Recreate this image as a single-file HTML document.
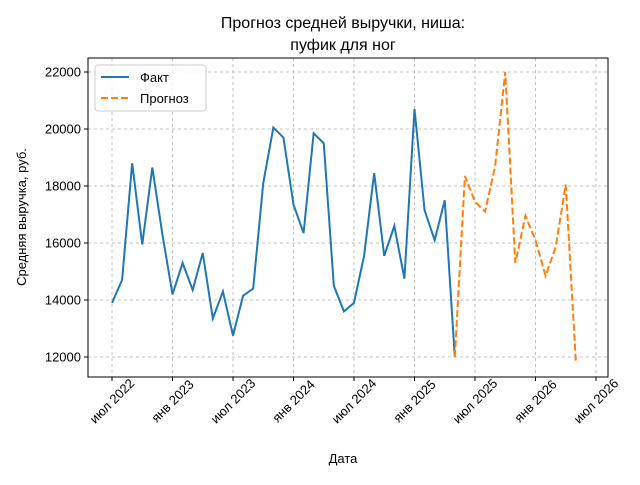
<!DOCTYPE html>
<html><head><meta charset="utf-8"><style>
body{margin:0;background:#fff}
svg text{font-family:"Liberation Sans","DejaVu Sans",sans-serif;fill:#000}
</style></head><body>
<svg id="c" width="640" height="480" xmlns="http://www.w3.org/2000/svg">
<rect width="640" height="480" fill="#fff"/>
<text x="343" y="28" font-size="16" text-anchor="middle">Прогноз средней выручки, ниша:</text>
<text x="343" y="50" font-size="16" text-anchor="middle">пуфик для ног</text>
<text transform="translate(26,217) rotate(-90)" font-size="13" text-anchor="middle">Средняя выручка, руб.</text>
<text x="343" y="463" font-size="13" text-anchor="middle">Дата</text>
<g id="grid"></g><g id="marks"></g><g id="axes"></g>
</svg>
<script>
const factValues=[13900,14700,18800,15950,18650,16300,14200,15300,14350,15650,13350,14300,12750,14150,14400,18100,20050,19700,17350,16350,19850,19500,14500,13600,13900,15550,18450,15550,16600,14750,20700,17150,16100,17500,12000];
const forecastValues=[12000,18350,17450,17100,18700,22000,15300,16950,16100,14850,15850,18050,11850];
const forecastStart=34;
const yTicks=[12000,14000,16000,18000,20000,22000];
const xTickMonths=[0,6,12,18,24,30,36,42,48];
const xTickLabels=["июл 2022","янв 2023","июл 2023","янв 2024","июл 2024","янв 2025","июл 2025","янв 2026","июл 2026"];
const L=88,R=608,T=58,B=377;
const xs=m=>112+m*10.083;
const ys=v=>357-(v-12000)*0.0285;
const NS="http://www.w3.org/2000/svg";
function mk(t,a,p){const e=document.createElementNS(NS,t);for(const k in a)e.setAttribute(k,a[k]);p.appendChild(e);return e;}
const grid=document.getElementById('grid'),marks=document.getElementById('marks'),axes=document.getElementById('axes');
yTicks.forEach(v=>{const y=ys(v);
const g=mk('line',{x1:L,x2:R,y1:y,y2:y,stroke:'#b0b0b0','stroke-width':0.8,'stroke-dasharray':'3,3'},grid);

mk('line',{x1:L-4,x2:L,y1:y,y2:y,stroke:'#000'},axes);
const t=mk('text',{x:L-7,y:y+4.5,'font-size':13,'text-anchor':'end'},axes);t.textContent=v;
});
xTickMonths.forEach((m,i)=>{const x=xs(m);
const g=mk('line',{x1:x,x2:x,y1:T,y2:B,stroke:'#b0b0b0','stroke-width':0.8,'stroke-dasharray':'3,3'},grid);

mk('line',{x1:x,x2:x,y1:B,y2:B+4,stroke:'#000'},axes);
const t=mk('text',{transform:`translate(${x},${B+24}) rotate(-45)`,y:4.5,'font-size':13,'text-anchor':'middle'},axes);t.textContent=xTickLabels[i];
});
const fp=mk('polyline',{points:factValues.map((v,i)=>xs(i)+','+ys(v)).join(' '),fill:'none',stroke:'#1f77b4','stroke-width':2},marks);

const pp=mk('polyline',{points:forecastValues.map((v,i)=>xs(i+forecastStart)+','+ys(v)).join(' '),fill:'none',stroke:'#ff7f0e','stroke-width':2,'stroke-dasharray':'7,3'},marks);

const fr=mk('rect',{x:L,y:T,width:R-L,height:B-T,fill:'none',stroke:'#000','stroke-width':1},axes);

const lg=mk('g',{},axes);
mk('rect',{x:95,y:65,width:111,height:46,rx:3,fill:'#fff','fill-opacity':0.8,stroke:'#ccc'},lg);
mk('line',{x1:101,x2:129,y1:77,y2:77,stroke:'#1f77b4','stroke-width':2},lg);
mk('line',{x1:101,x2:129,y1:98,y2:98,stroke:'#ff7f0e','stroke-width':2,'stroke-dasharray':'7,3'},lg);
const t1=mk('text',{x:140,y:82,'font-size':13},lg);t1.textContent='Факт';

const t2=mk('text',{x:140,y:103,'font-size':13},lg);t2.textContent='Прогноз';

</script>
</body></html>
